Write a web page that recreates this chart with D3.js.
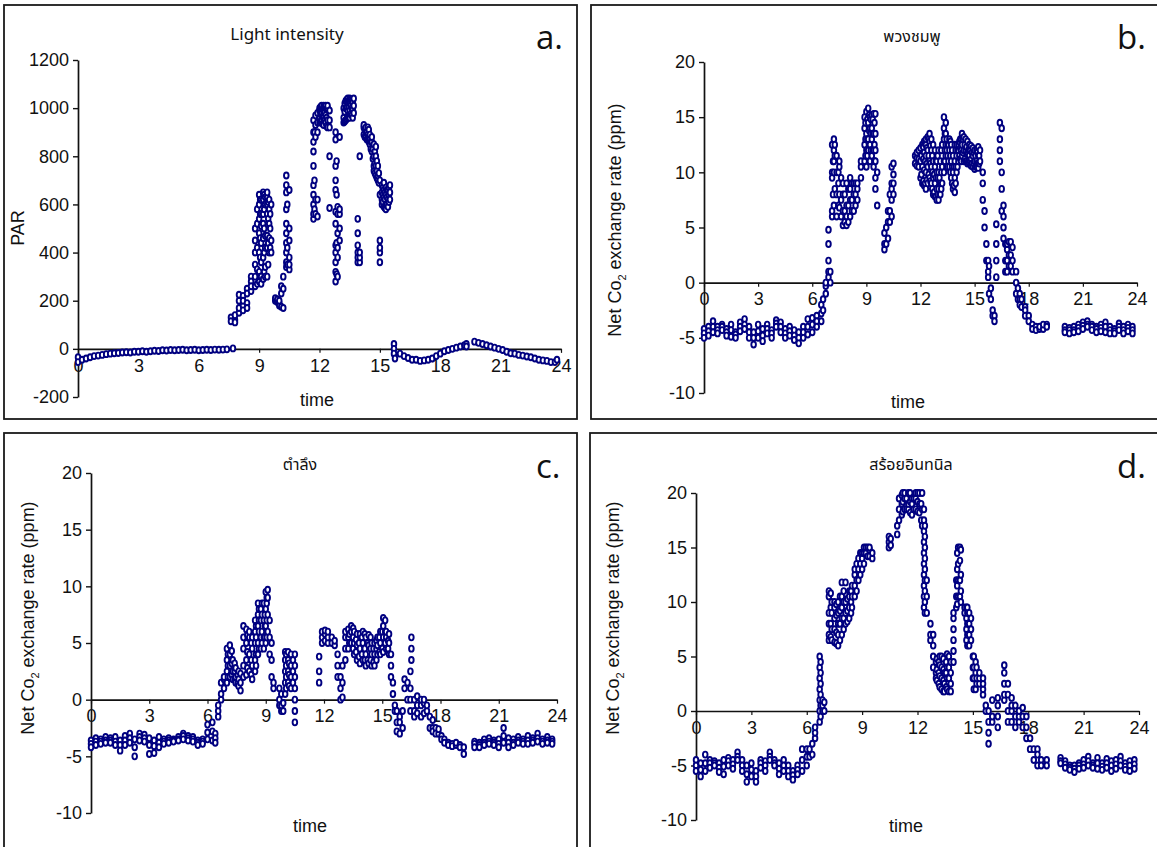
<!DOCTYPE html>
<html>
<head>
<meta charset="utf-8">
<script src="https://cdn.jsdelivr.net/npm/d3@7"></script>
<style>
  body { margin: 0; background: #fff; }
  text { font-family: "Liberation Sans", Arial, sans-serif; fill: #111; }
</style>
</head>
<body>
<svg id="grafico" width="1157" height="847"></svg>
<script>
// Tick values
const timeTicks = [0, 3, 6, 9, 12, 15, 18, 21, 24];
const parTicks = [-200, 0, 200, 400, 600, 800, 1000, 1200];
const co2Ticks = [-10, -5, 0, 5, 10, 15, 20];

// Each row: [time (h), reading, reading, ...]
const parRows = [
  [0.0,-35,-55],[0.2,-45],[0.4,-40],[0.6,-35],[0.8,-30],[1.0,-28],[1.2,-25],[1.4,-22],[1.6,-20],[1.8,-18],
  [2.0,-17],[2.2,-15],[2.4,-14],[2.6,-15],[2.8,-12],[3.0,-12],[3.2,-10],[3.4,-12],[3.6,-10],[3.8,-8],
  [4.0,-9],[4.2,-6],[4.4,-7],[4.6,-5],[4.8,-6],[5.0,-5],[5.2,-4],[5.4,-6],[5.6,-5],[5.8,-4],
  [6.0,-6],[6.2,-5],[6.4,-4],[6.6,-5],[6.8,-3],[7.0,-4],[7.2,-3],[7.4,-2],[7.7,2],
  [7.6,130,115],[7.8,120,140,110],[8.0,150,200,170,225],[8.2,220,180,160,200],[8.4,250,190,230,170],
  [8.6,240,300,280,260],[8.8,260,350,450,500,400,300],[8.9,270,330,420,520,580],
  [9.0,280,320,400,480,540,600,640],[9.05,300,380,460,560,620],
  [9.1,270,300,360,440,510,560,620],[9.2,290,380,460,520,560,620,650],[9.25,320,400,500,580,640],
  [9.3,300,340,420,470,600,630],[9.4,300,420,470,560,600,630,650],[9.45,350,440,540,610],
  [9.5,400,460,520,580,620],[9.55,420,500,560],[9.6,400,450,600],
  [9.8,200,210],[9.9,195,205],[10.0,190,180,200],[10.1,175,230,260],[10.2,170,250,300],
  [10.35,340,360,400,440,480,520,580,650,680,720],[10.4,350,420,600],[10.5,330,350,380,450,500,660],
  [11.7,540,560,600,640,680,760,820,860,900,950],[11.75,580,700,900],[11.8,560,620,880,930,970],
  [11.9,550,620,900,940,980],[12.0,940,960,990,1000],[12.05,945,975,1005],[12.1,950,980,1000,1010],
  [12.15,935,965,995],[12.2,930,960,990,1010],[12.25,950,985,1005],[12.3,940,970,1000,1010],
  [12.35,925,960,995],[12.4,920,950,1000,1010],[12.5,585,800,920,950,990],
  [12.8,280,320,360,400,430,520,570,660,700,760,870,900],[12.85,310,440,640,780],
  [12.9,300,380,420,480,560,590],[13.0,450,500,560,580,880],
  [13.2,940,960,1000],[13.25,945,985,1020],[13.3,950,1000,1030],[13.35,955,1000,1035],
  [13.4,960,990,1020,1040],[13.45,965,1005,1030],[13.5,960,990,1020,1040],[13.55,975,1010,1035],
  [13.6,970,1000,1030],[13.65,960,995,1025],[13.7,980,1010,1040],
  [13.9,360,380,400,430,480,540],[14.0,360,380,400,800],
  [14.2,890,920,930],[14.25,880,910],[14.3,880,900,920],[14.35,870,900],[14.4,870,890,920],
  [14.45,860,880,910],[14.5,850,870,890],[14.55,830,860],[14.6,820,860,880],[14.65,790,830],
  [14.7,740,760,800,850],[14.75,730,770,820],[14.8,720,760,800,840],[14.85,710,740,780],
  [14.9,700,720,760],[14.95,690,730],[15.0,360,400,420,450,640,700],
  [15.1,600,620,650,680],[15.15,610,640,670],[15.2,590,630,660,690],[15.25,585,620,650],
  [15.3,580,600,640,670],[15.35,600,630,660],[15.4,590,620,660],[15.45,610,640,670],[15.5,620,650,680],
  [15.7,20,0,-20],[15.75,-40],[16.0,-20],[16.2,-30],[16.4,-38],[16.6,-45],[16.8,-45],[17.0,-50],
  [17.2,-48],[17.4,-45],[17.6,-40],[17.8,-30],[18.0,-20],[18.2,-10],[18.4,-5],[18.6,0],[18.8,5],
  [19.0,10],[19.2,15],[19.3,20,10],
  [19.7,30],[19.9,25],[20.1,20],[20.3,15],[20.5,10],[20.7,5],[20.9,0],[21.1,-5],[21.3,-12],[21.5,-18],
  [21.7,-20],[21.9,-25],[22.1,-28],[22.3,-32],[22.5,-35],[22.7,-40],[22.9,-45],[23.1,-48],[23.3,-50],
  [23.5,-55],[23.7,-55],[23.8,-45]
];

// พวงชมพู
const phuangRows = [
  [0.0,-4.2,-4.6,-5.0],[0.25,-4.0,-4.4,-4.8],[0.5,-3.5,-4.0,-4.5],[0.75,-4.0,-4.3,-4.6],[1.0,-3.8,-4.0,-4.3],
  [1.25,-4.2,-4.5,-4.8],[1.5,-3.8,-4.3,-4.9],[1.75,-4.5,-4.7,-5.0],[2.0,-3.6,-4.0,-4.4],[2.25,-3.3,-3.8,-4.2],
  [2.5,-4.0,-4.5,-5.0],[2.75,-4.5,-5.0,-5.6],[3.0,-3.8,-4.4,-5.0],[3.25,-4.2,-4.8,-5.3],[3.5,-3.8,-4.2,-4.6],
  [3.75,-4.3,-4.6,-5.0],[4.0,-3.4,-3.7,-4.0],[4.25,-3.6,-4.0,-4.5],[4.5,-4.2,-4.6,-5.0],[4.75,-4.0,-4.4,-4.8],
  [5.0,-4.3,-4.8,-5.2],[5.25,-4.5,-5.0,-5.5],[5.5,-4.0,-4.5,-5.0],[5.75,-3.3,-4.0,-4.7],[6.0,-3.2,-3.8,-4.5],
  [6.25,-3.0,-3.5,-4.0],[6.5,-2.0,-2.8,-3.5],
  [6.6,-2.5,-1.5],[6.75,-1.0,-0.3,0],[6.9,0.5,1.0,2.0,3.5,4.8],[7.0,0,1.0],[7.1,6.0,6.5,9.5,10.0,12.5],
  [7.15,8.0,11.0],[7.2,7.0,10.0,12.0,13.0,11.0],[7.25,8.5,11.5,12.5],[7.35,6.0,8.0,10.0,11.5],
  [7.45,7.0,9.0,10.0],[7.5,6.8,8.0,10.5,11.0],[7.6,6.0,7.5,9.5],[7.7,5.2,6.5,8.0,9.0],[7.8,5.5,6.5,8.0],
  [7.9,5.2,6.0,7.0,9.0],[8.0,5.5,7.0,8.5],[8.1,6.0,7.5,8.5,9.5],[8.2,6.5,7.5,9.0],[8.3,6.5,8.0,9.0],
  [8.4,7.0,8.0,9.0],[8.5,7.5,8.5,9.0],[8.7,9.5,10.5,11.0],
  [8.9,11.0,12.5,14.0,15.0],[8.95,11.5,13.0,14.5],[9.0,10.5,12.0,13.5,15.5],[9.05,11.5,13.0,14.8],
  [9.1,12.0,13.0,14.5,15.8],[9.15,12.5,13.8,15.2],[9.2,11.0,12.5,14.0,15.0],[9.25,12.0,13.5,14.8],
  [9.3,11.5,13.0,14.0,15.2],[9.35,12.0,13.5,14.8],[9.4,10.5,12.0,13.5,15.3],[9.45,11.0,12.5,14.5],
  [9.5,8.5,9.5,11.0,12.0,13.5,15.3],[9.6,7.0,10.0],
  [10.0,3.0,3.5,4.5],[10.1,3.5,5.0],[10.2,4.0,5.5,6.5],[10.3,5.5,6.5,8.0],[10.4,6.0,7.5,8.5,9.0,10.5],
  [10.5,8.0,9.0,9.8,10.8],
  [11.7,10.8,11.5],[11.8,10.6,11.3,11.8],[11.9,10.5,11.2,12.0],[12.0,9.5,11.0,12.2],[12.05,9.8,11.5],
  [12.1,9.0,10.5,12.5],[12.15,9.2,11.2,12.3],[12.2,8.8,10.2,11.8,12.8],[12.25,9.0,11.0,12.6],
  [12.3,8.5,10.0,11.5,12.5,13.0],[12.35,9.3,10.8,12.2],[12.4,9.0,10.5,12.0,13.2],[12.45,9.8,11.5,13.0],
  [12.5,9.5,11.0,12.8,13.5],[12.55,9.2,10.8,12.4],[12.6,9.0,10.5,12.0,13.0],[12.65,8.5,10.0,11.5],
  [12.7,8.0,9.5,11.0,12.5],[12.75,8.2,9.8],[12.8,7.8,9.0,10.5,12.0],[12.85,7.8,9.5,11.0],
  [12.9,7.5,8.5,10.0,11.0],[12.95,8.0,9.5,11.5],[13.0,7.5,8.5,10.0,12.0],[13.05,8.0,9.5],
  [13.1,8.0,9.0,11.0],[13.15,8.5,10.0,12.0],[13.2,9.0,10.5,12.5],[13.3,10.0,11.0,13.0,14.0,15.0],
  [13.35,11.0,12.0,13.5],[13.4,11.5,12.5,13.5,14.5],[13.45,10.5,12.0,13.0],[13.5,10.5,11.5,12.5],
  [13.55,11.0,12.5],[13.6,10.5,12.0,13.0],[13.65,10.0,11.5,12.8],[13.7,9.5,11.0,12.5],[13.75,9.0,10.5,12.0],
  [13.8,8.5,10.0,11.5],[13.85,8.8,10.5],[13.9,8.2,9.5,11.0,12.5],[13.95,9.0,10.5,12.0],
  [14.0,10.0,11.5,12.5],[14.05,10.5,12.0],[14.1,11.0,12.0,12.5],[14.15,11.5,12.8],
  [14.2,11.2,12.2,13.0],[14.25,11.0,12.0,13.0],[14.3,11.5,12.5,13.5],[14.35,11.8,13.0],
  [14.4,11.0,12.0,13.2],[14.45,11.2,12.5],[14.5,11.0,12.0,13.0],[14.55,11.0,12.3],
  [14.6,10.8,11.8,12.8],[14.65,11.0,12.0],[14.7,10.8,11.5,12.5],[14.75,11.0,12.0],
  [14.8,10.6,11.2,12.4],[14.85,10.8,11.8],[14.9,10.5,11.5,12.2],[14.95,10.8,11.8],
  [15.0,10.3,11.0,12.0],[15.05,10.5,11.5],[15.1,10.5,11.0,12.0],[15.15,10.8,11.8],
  [15.2,10.4,11.5,12.3],[15.25,10.8,11.5],[15.3,11.0,12.0],
  [15.45,7.5,9.0,10.0],[15.55,5.0,6.5],[15.65,2.0,3.5],[15.75,0.5,1.0,2.0],[15.8,-1.0,1.5],[15.9,-0.5,-1.5],
  [16.0,-2.5,-3.0],[16.1,-3.0,-3.5],[16.2,0.5,2.0,3.5,5.3],
  [16.4,11.0,12.0,13.0,14.5],[16.5,6.5,8.5,10.0,14.0],[16.6,4.0,5.0,6.0,7.0],[16.7,1.0,2.0,3.5],
  [16.8,1.0,2.0,3.0,3.5],[16.9,1.5,2.5,3.7],[17.0,1.5,2.5,3.7],[17.1,1.0,2.0,3.2],[17.3,-1.0,0,1.0],
  [17.4,-1.5,-0.5],[17.5,-1.0,-1.5,-2.0],[17.6,-1.5,-2.2],[17.8,-2.2,-2.5,-3.0],[18.0,-3.0,-3.5],
  [18.2,-3.8,-4.2],[18.4,-4.0,-4.3],[18.6,-4.2,-4.0],[18.8,-4.2,-3.8],[19.0,-3.8,-4.0],
  [20.0,-4.0,-4.3,-4.5],[20.25,-4.1,-4.3,-4.6],[20.5,-4.0,-4.3,-4.5],[20.75,-3.8,-4.1,-4.4],
  [21.0,-3.6,-3.9,-4.2],[21.25,-3.5,-3.8,-4.0],[21.5,-3.8,-4.0,-4.3],[21.75,-4.0,-4.2,-4.5],
  [22.0,-3.8,-4.1,-4.4],[22.25,-3.6,-4.0,-4.5],[22.5,-4.0,-4.3,-4.6],[22.75,-4.2,-4.4,-4.6],
  [23.0,-3.7,-4.0,-4.3],[23.25,-4.0,-4.3,-4.6],[23.5,-3.8,-4.1,-4.4],[23.75,-4.0,-4.3,-4.6]
];

// ตำลึง
const tamlungRows = [
  [0.0,-3.6,-3.9,-4.2],[0.25,-3.4,-3.7,-4.0],[0.5,-3.5,-3.7,-3.9],[0.75,-3.3,-3.6,-3.8],[1.0,-3.4,-3.6,-3.8],
  [1.25,-3.3,-3.7,-4.0],[1.5,-3.6,-4.0,-4.5],[1.75,-3.2,-3.6,-4.0],[2.0,-3.0,-3.4,-3.8],[2.25,-3.5,-4.2,-5.0],
  [2.5,-3.0,-3.3,-3.6],[2.75,-3.1,-3.4,-3.7],[3.0,-3.4,-4.0,-4.8],[3.25,-3.6,-4.1,-4.7],[3.5,-3.3,-3.8,-4.2],
  [3.75,-3.5,-3.7,-3.9],[4.0,-3.4,-3.6,-3.8],[4.25,-3.5,-3.6,-3.7],[4.5,-3.3,-3.5,-3.6],[4.75,-3.0,-3.2,-3.5],
  [5.0,-3.2,-3.4,-3.6],[5.25,-3.3,-3.5,-3.7],[5.5,-3.6,-3.8,-4.0],[5.75,-3.5,-3.7,-3.9],[6.0,-2.2,-2.9,-3.5],
  [6.25,-2.0,-2.8,-3.6],[6.4,-3.0,-3.4,-3.8],
  [6.55,-1.5,-1.0,-0.5],[6.7,0,0.5,1.5],[6.85,1.0,1.8,2.0],[7.0,1.5,2.5,3.5,4.5],[7.05,2.0,3.0,4.0],
  [7.15,2.0,3.0,4.0,4.8],[7.25,2.2,3.2,4.3],[7.3,1.8,2.5,3.5],[7.4,1.8,2.5,3.2],[7.45,1.5,2.0,2.8],
  [7.55,1.4,2.2],[7.6,1.2,1.8,2.5],[7.7,0.8,1.5,2.3],[7.85,2.0,3.0,4.5,5.5,6.5],
  [8.0,2.2,3.5,5.0,6.2],[8.05,2.8,4.2,5.7],[8.15,2.5,4.0,5.5,6.0],[8.25,2.2,3.5,5.0],[8.3,1.8,3.0,4.5,5.5],
  [8.45,2.5,3.5,5.0,6.0,7.0],[8.5,3.0,4.0,5.5,6.5],[8.6,4.0,5.0,6.5,7.5,8.5],[8.65,4.5,6.0,7.0,8.0],
  [8.75,4.5,5.5,7.0,8.0],[8.8,5.0,6.0,7.5,8.5],[8.9,4.5,5.5,7.0,8.5],[8.95,5.5,6.5,7.5],
  [9.0,5.0,6.5,8.0,9.5],[9.05,5.5,7.0,8.5,9.0],
  [9.1,6.0,7.5,9.0,9.7],[9.2,4.0,5.5,7.0],[9.3,2.0,3.5,5.0],[9.4,1.0,1.5],[9.7,1.0,0,-0.5],
  [9.8,-1.0,-0.5,0.5],[9.9,-1.0,-0.3],[10.0,0.5,1.5,2.5,3.5,4.2],[10.05,1.0,2.0,3.0,4.0],
  [10.15,1.5,2.5,3.5,4.2],[10.2,1.2,2.2,3.2],[10.3,1.0,2.0,3.0,4.0],[10.4,1.5,2.5,3.5],
  [10.5,-2.0,-1.0,0,1.0,2.0,3.0,4.0],
  [11.75,1.5,2.5,3.8],[11.9,5.0,5.5,6.0],[12.05,5.2,5.8,6.1],[12.2,5.0,5.5,6.0],[12.4,5.0,5.5],
  [12.55,4.8,5.2],[12.7,2.0,3.0,4.0],[12.85,0,1.0,2.0],[12.95,0.2,1.5,3.0],[13.1,3.5,4.5,5.5,6.0],
  [13.25,4.5,5.5,6.2],[13.3,5.0,5.8],[13.4,5.0,6.0,6.5],[13.5,4.5,5.5,6.3],[13.55,4.0,5.0,6.0],
  [13.65,4.2,5.3],[13.7,3.5,4.8,5.8],[13.8,3.8,5.0],[13.85,3.2,4.5,5.8],[13.95,4.0,5.5],
  [14.0,3.5,5.0,6.0],[14.1,3.5,4.5,5.8],[14.15,3.0,4.0,5.5],[14.25,3.5,5.0],[14.3,3.2,4.8,5.7],
  [14.4,3.5,4.5,5.5],[14.45,3.0,4.0,5.0],[14.55,3.3,4.5],[14.6,3.0,4.0,5.0],[14.7,3.5,4.5,5.2],
  [14.75,4.0,4.8,5.5],[14.85,4.2,5.5],[14.9,4.0,5.0,6.0],[15.0,4.5,6.0],[15.05,4.2,5.5,6.5,7.2],
  [15.15,5.0,6.0,7.0],[15.2,4.5,5.5,6.0],[15.3,4.5,5.2],[15.35,4.0,5.0,5.8],
  [15.45,2.0,3.0,4.0],[15.55,0.5,1.5],[15.65,-0.5,-1.0],[15.75,-1.0,-2.0,-2.8],[15.9,-1.5,-2.0,-3.0],
  [16.05,-2.5,-1.0],[16.15,1.0,1.8],[16.3,0,1.5],[16.45,-1.0,0,1.0,2.5],[16.5,3.5,4.5,5.5],
  [16.65,0,-1.0,-1.5],[16.8,-0.5,-1.2,0.3],[17.0,-1.5,-0.5,0],[17.15,-1.2,-0.3,0],[17.3,-1.0,-0.5],
  [17.45,-1.5,-2.5],[17.6,-1.8,-2.5,-2.8],[17.75,-2.5,-3.0],[17.9,-3.0,-2.6],[18.05,-3.2,-3.5],
  [18.2,-3.5,-3.8],[18.4,-3.8,-4.0],[18.6,-3.9,-4.1],[18.8,-4.0,-3.8],[19.0,-4.0,-4.2],[19.2,-4.8,-4.2],
  [19.75,-3.7,-3.9,-4.2],[20.0,-3.8,-4.0,-4.2],[20.25,-3.5,-3.8,-4.0],[20.5,-3.4,-3.7,-3.9],
  [20.75,-3.6,-3.8,-4.0],[21.0,-3.5,-3.9,-4.2],[21.25,-2.5,-3.2,-3.8],[21.5,-3.4,-3.8,-4.2],
  [21.75,-3.5,-3.8,-4.0],[22.0,-3.3,-3.6,-3.8],[22.25,-3.5,-3.7,-3.9],[22.5,-3.2,-3.6,-3.9],
  [22.75,-3.4,-3.6,-3.8],[23.0,-3.0,-3.4,-3.7],[23.25,-3.5,-3.7,-3.9],[23.5,-3.3,-3.6,-3.8],[23.75,-3.5,-3.7,-3.9]
];

// สร้อยอินทนิล
const soiRows = [
  [0.0,-4.5,-5.0,-5.5],[0.25,-4.8,-5.4,-6.0],[0.5,-4.0,-4.8,-5.5],[0.75,-4.5,-4.8,-5.2],[1.0,-4.6,-4.8,-5.0],
  [1.25,-4.8,-5.2,-5.6],[1.5,-4.5,-5.1,-5.8],[1.75,-4.3,-4.6,-5.0],[2.0,-4.5,-4.9,-5.3],[2.25,-3.8,-4.2,-4.5],
  [2.5,-4.5,-5.0,-5.5],[2.75,-5.0,-5.8,-6.5],[3.0,-4.8,-5.4,-6.0],[3.25,-5.5,-6.0,-6.5],[3.5,-4.5,-4.8,-5.2],
  [3.75,-4.6,-5.0,-5.5],[4.0,-3.8,-4.2,-4.5],[4.25,-4.5,-4.8,-5.0],[4.5,-4.8,-5.3,-5.8],[4.75,-4.5,-5.0,-5.5],
  [5.0,-5.0,-5.5,-6.0],[5.25,-5.5,-5.9,-6.3],[5.5,-5.0,-5.4,-5.8],[5.75,-3.5,-4.5,-5.5],[6.0,-3.5,-4.2,-5.0],
  [6.15,-4.2,-3.5],[6.3,-4.0,-3.0],[6.45,-2.5,-2.0,-1.5],[6.7,-1.0,0,1.0,2.0,3.0,4.0,5.0],
  [6.75,-0.5,0.5,1.5,2.5,3.5,4.5],[6.85,0,0.5,1.0],
  [6.95,0,0.8],[7.2,6.5,7.0,8.0,9.0,10.5,11.0],[7.3,6.8,8.0,9.5,10.8],[7.35,6.5,7.5,9.0,10.0],
  [7.5,6.3,7.5,8.5,9.5,10.0],[7.6,6.2,7.2,8.8,9.8],[7.7,6.0,7.0,8.0,9.0,10.0],[7.8,6.5,8.0,9.2,10.5],
  [7.9,7.0,8.5,9.5,10.5,11.8],[8.0,7.5,8.5,10.0,11.0],[8.1,8.0,9.0,10.0,11.8],[8.2,8.2,9.2,10.3],
  [8.3,8.5,9.5,10.5,11.0],[8.4,9.0,10.0,11.0],[8.45,9.5,10.5,11.5],[8.6,10.5,11.5,12.5,13.0],
  [8.7,11.0,12.0,13.5],[8.8,12.0,13.0,14.0],[8.9,12.5,13.5,14.5],[9.0,13.0,14.0,14.5],
  [9.1,13.5,14.5,15.0],[9.2,14.5,15.0],[9.3,14.2,15.0],[9.4,14.2,14.8,15.0],[9.55,14.0,14.5],
  [10.45,15.0,15.5,16.0],[10.55,15.2,15.8],[10.9,16.2,17.0],[11.0,17.5,18.5,19.5],[11.15,18.0,19.0,19.8],
  [11.2,18.3,19.2,20.0],[11.3,18.5,19.5,20.0],[11.4,18.5,19.5],[11.5,18.5,19.0,20.0],[11.6,18.2,19.2,20.0],
  [11.7,18.0,19.0,19.5],[11.8,18.5,19.5],[11.9,18.5,19.5,20.0],[12.0,18.3,19.2,20.0],[12.1,18.2,19.0,20.0],
  [12.2,17.5,19.0],[12.25,17.0,18.5,20.0],
  [12.35,9.5,10.5,11.5,12.5,13.5,14.5,15.5,16.5,17.5,18.5],
  [12.4,9.0,10.0,11.0,12.0,13.0,14.0,15.0,16.0,17.0],[12.5,9.0,10.5,12.0],
  [12.7,6.5,7.0,8.0],[12.85,4.0,5.0,6.0,7.0],[13.0,3.5,4.5,3.0],[13.05,2.8,3.8,4.8],[13.15,2.5,3.5,4.5],
  [13.2,2.2,3.2,4.2,5.0],[13.3,2.0,3.0,4.0,5.0],[13.4,1.8,2.8,3.8,4.8],[13.45,1.8,2.5,3.5],
  [13.55,2.2,3.5,4.5],[13.6,2.0,3.0,4.0,5.2],[13.7,1.8,3.0,4.0,5.0],[13.8,1.8,2.5,3.5,4.5],
  [13.95,4.5,5.5,6.5,7.5,8.5,9.0],
  [14.1,9.5,10.5,12.0],[14.15,9.8,11.5,13.0,14.5],[14.2,10.5,12.0,13.5,15.0],[14.3,10.5,12.0,13.8,15.0],
  [14.35,10.0,11.0,12.5,14.8],[14.55,9.0,9.5],[14.65,6.5,7.5,8.5,9.5],
  [14.7,6.0,7.0,8.0,9.0,9.5],[14.8,6.0,7.0,8.0,9.0],[14.9,6.5,7.5,8.5],[15.0,3.0,4.0,5.0],
  [15.05,2.0,3.0,4.0,5.0],[15.15,2.0,3.5,4.5],[15.2,2.5,3.0,4.0],
  [15.35,2.5,3.0,3.5],[15.55,1.5,2.0,2.5,3.0],[15.7,0,0.5],[15.85,-3.0,-2.0,-1.0,0],[16.05,-1.0,-0.5,1.0],
  [16.35,-1.5,-0.5,0.5,1.2],[16.7,1.0,1.5,2.5,3.5,4.2],[16.9,-1.0,0,1.5,2.5],[17.1,-1.0,0,0.5,1.2],
  [17.3,-1.5,-0.5,0.5],[17.5,-1.0,-0.5,0],[17.7,-1.5,-0.5,0.3],[17.9,-0.5,-1.5,-2.5],[18.1,-2.5,-3.5],
  [18.3,-3.5,-4.5],[18.5,-3.5,-4.0,-5.0],[18.7,-4.5,-5.0],[19.0,-4.5,-5.0],
  [19.75,-4.3,-4.6,-4.8],[20.0,-4.6,-4.9,-5.2],[20.25,-5.0,-5.2,-5.4],[20.5,-5.0,-5.3,-5.6],
  [20.75,-4.8,-5.0,-5.3],[21.0,-4.5,-4.9,-5.2],[21.25,-4.2,-4.6,-5.0],[21.5,-4.8,-5.0,-5.2],
  [21.75,-4.3,-4.8,-5.3],[22.0,-4.8,-5.1,-5.4],[22.25,-4.4,-4.8,-5.2],[22.5,-4.6,-5.0,-5.5],
  [22.75,-4.5,-4.9,-5.3],[23.0,-4.2,-4.6,-5.0],[23.25,-4.8,-5.1,-5.4],[23.5,-4.6,-5.0,-5.5],[23.75,-4.5,-4.9,-5.3]
];

const paneles = [
  { rows: parRows, ticks: parTicks, domain: [-200, 1200], title: "Light intensity", titleSize: 17, letter: "a.",
    box: [4, 5, 573, 414], x0: 78, x1: 561, yBot: 397, yTop: 60,
    titleXY: [287, 40], letterXY: [536, 49], ylabXY: [24, 228], timeXY: [317, 406], ylab: "PAR" },
  { rows: phuangRows, ticks: co2Ticks, domain: [-10, 20], title: "พวงชมพู", titleSize: 16, letter: "b.",
    box: [591, 5, 580, 414], x0: 704, x1: 1137, yBot: 393, yTop: 62,
    titleXY: [912, 42], letterXY: [1117, 49], ylabXY: [621, 220], timeXY: [908, 408], ylab: "co2" },
  { rows: tamlungRows, ticks: co2Ticks, domain: [-10, 20], title: "ตำลึง", titleSize: 16, letter: "c.",
    box: [4, 433, 573, 430], x0: 91, x1: 557, yBot: 813, yTop: 473,
    titleXY: [300, 470], letterXY: [536, 478], ylabXY: [34, 618], timeXY: [310, 832], ylab: "co2" },
  { rows: soiRows, ticks: co2Ticks, domain: [-10, 20], title: "สร้อยอินทนิล", titleSize: 16, letter: "d.",
    box: [590, 433, 580, 430], x0: 696, x1: 1139, yBot: 820, yTop: 493,
    titleXY: [911, 470], letterXY: [1117, 478], ylabXY: [619, 618], timeXY: [906, 832], ylab: "co2" }
];

const svg = d3.select("#grafico");

function dibujarPanel(p) {
    const g = svg.append("g");

    g.append("rect")
        .attr("x", p.box[0]).attr("y", p.box[1])
        .attr("width", p.box[2]).attr("height", p.box[3])
        .attr("fill", "none")
        .attr("stroke", "#1a1a1a")
        .attr("stroke-width", 1.8);

    const x = d3.scaleLinear().domain([0, 24]).range([p.x0, p.x1]);
    const y = d3.scaleLinear().domain(p.domain).range([p.yBot, p.yTop]);

    // eje y
    const ejeY = g.append("g")
        .attr("transform", "translate(" + x(0) + ",0)")
        .call(d3.axisLeft(y).tickValues(p.ticks).tickFormat(d => String(d))
            .tickSize(5).tickSizeOuter(0).tickPadding(4));
    ejeY.select(".domain").attr("stroke", "#111").attr("stroke-width", 1.7);
    ejeY.selectAll(".tick line").attr("stroke", "#111").attr("stroke-width", 1.4);
    ejeY.selectAll("text").style("font-size", "18px").attr("fill", "#111");

    // eje x en cero
    const ejeX = g.append("g")
        .attr("transform", "translate(0," + y(0) + ")")
        .call(d3.axisBottom(x).tickValues(timeTicks).tickFormat(d => String(d))
            .tickSize(4).tickSizeOuter(0).tickPadding(6));
    ejeX.select(".domain").attr("stroke", "#111").attr("stroke-width", 1.7);
    ejeX.selectAll(".tick line").attr("stroke", "#111").attr("stroke-width", 1.2);
    ejeX.selectAll("text").style("font-size", "18px").attr("fill", "#111");

    // puntos
    const puntos = p.rows.flatMap(r => r.slice(1).map(v => ({ t: r[0], v: v })));
    g.append("g").selectAll("ellipse")
        .data(puntos)
        .enter().append("ellipse")
        .attr("cx", d => x(d.t))
        .attr("cy", d => y(d.v))
        .attr("rx", 2.3)
        .attr("ry", 3.0)
        .attr("fill", "#fff")
        .attr("stroke", "#000080")
        .attr("stroke-width", 1.9);

    g.append("text")
        .attr("x", p.titleXY[0]).attr("y", p.titleXY[1])
        .attr("text-anchor", "middle")
        .style("font-family", "'Noto Sans Thai','Liberation Sans','Noto Sans',sans-serif")
        .style("font-size", p.titleSize + "px")
        .text(p.title);

    g.append("text")
        .attr("x", p.letterXY[0]).attr("y", p.letterXY[1])
        .style("font-family", "'Open Sans','Noto Sans',sans-serif")
        .style("font-size", "33px")
        .text(p.letter);

    g.append("text")
        .attr("x", p.timeXY[0]).attr("y", p.timeXY[1])
        .attr("text-anchor", "middle")
        .style("font-size", "18px")
        .text("time");

    const ylab = g.append("text")
        .attr("transform", "translate(" + p.ylabXY[0] + "," + p.ylabXY[1] + ") rotate(-90)")
        .attr("text-anchor", "middle")
        .style("font-size", "18px");
    if (p.ylab === "PAR") {
        ylab.text("PAR");
    } else {
        ylab.append("tspan").text("Net Co");
        ylab.append("tspan").attr("dy", 5).style("font-size", "11px").text("2");
        ylab.append("tspan").attr("dy", -5).text(" exchange rate (ppm)");
    }
}

paneles.forEach(dibujarPanel);
</script>
</body>
</html>
